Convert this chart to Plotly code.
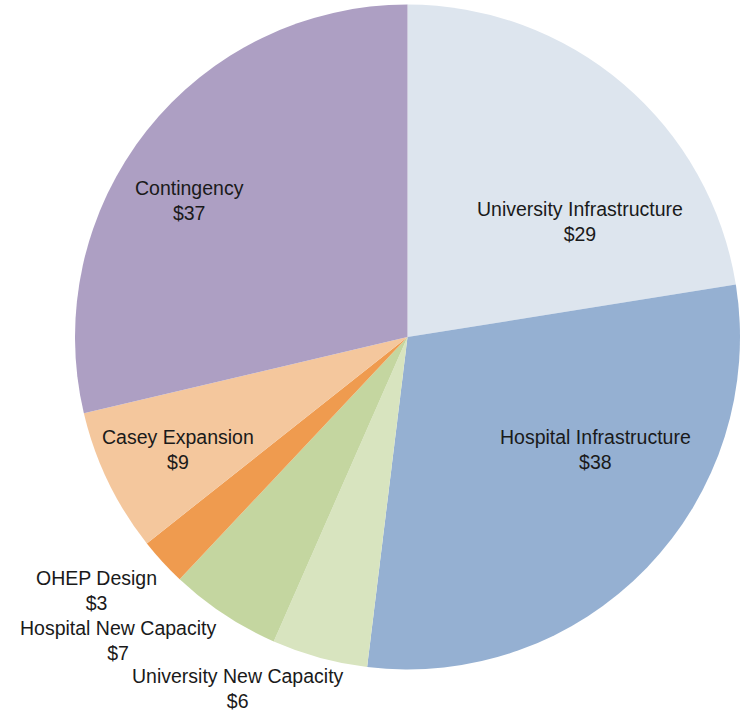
import plotly.graph_objects as go

categories = ["University Infrastructure", "Hospital Infrastructure", "University New Capacity",
              "Hospital New Capacity", "OHEP Design", "Casey Expansion", "Contingency"]
values = [29, 38, 6, 7, 3, 9, 37]
colors = ["#dde5ee", "#95b0d2", "#d8e4bf", "#c4d6a0", "#ef9b4f", "#f4c79d", "#ad9fc3"]

# label placement (pixel positions in the 741x712 canvas), layout only
label_pos = [(580, 221), (595, 449), (238, 688), (118, 640), (96, 590), (178, 449), (189, 200)]

W, H = 741, 712

fig = go.Figure(go.Pie(
    labels=categories,
    values=values,
    marker=dict(colors=colors, line=dict(width=0)),
    sort=False,
    direction="clockwise",
    rotation=0,
    textinfo="none",
    hoverinfo="label+value",
    showlegend=False,
    domain=dict(x=[75 / W, 740 / W], y=[42 / H, 708 / H]),
))

annotations = []
for cat, val, (px, py) in zip(categories, values, label_pos):
    annotations.append(dict(
        x=px / W, y=1 - py / H, xref="paper", yref="paper",
        xanchor="center", yanchor="middle",
        text=f"{cat}<br>${val}", showarrow=False, align="center",
        font=dict(family="Liberation Sans, Arial, sans-serif", size=19.5, color="#1a1a1a"),
    ))

fig.update_layout(
    width=W, height=H,
    margin=dict(l=0, r=0, t=0, b=0),
    paper_bgcolor="white", plot_bgcolor="white",
    annotations=annotations,
)

fig.write_html("out.html", config={"displayModeBar": False},
               post_script="document.body.style.margin='0';document.body.style.overflow='hidden';")
